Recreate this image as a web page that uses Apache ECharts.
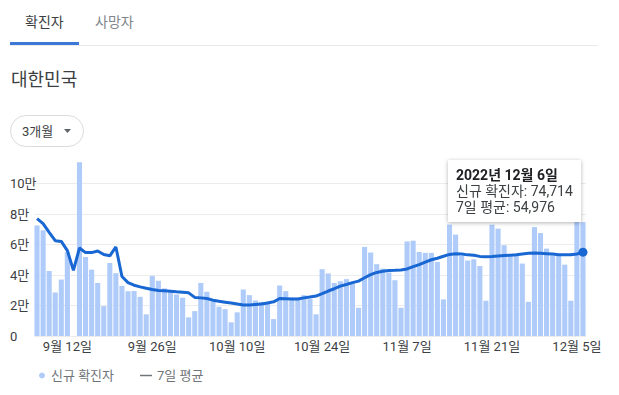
<!DOCTYPE html>
<html><head><meta charset="utf-8">
<script src="https://cdn.jsdelivr.net/npm/echarts@6/dist/echarts.min.js"></script>
<style>html,body{margin:0;padding:0;background:#fff}#c{width:619px;height:395px}</style>
</head><body><div id="c"></div>
<script>
const YEAR = 2022;
const dates = [
 "9/7","9/8","9/9","9/10","9/11","9/12","9/13","9/14","9/15","9/16","9/17","9/18","9/19","9/20","9/21","9/22","9/23","9/24","9/25","9/26","9/27","9/28","9/29","9/30",
 "10/1","10/2","10/3","10/4","10/5","10/6","10/7","10/8","10/9","10/10","10/11","10/12","10/13","10/14","10/15","10/16","10/17","10/18","10/19","10/20","10/21","10/22","10/23","10/24","10/25","10/26","10/27","10/28","10/29","10/30","10/31",
 "11/1","11/2","11/3","11/4","11/5","11/6","11/7","11/8","11/9","11/10","11/11","11/12","11/13","11/14","11/15","11/16","11/17","11/18","11/19","11/20","11/21","11/22","11/23","11/24","11/25","11/26","11/27","11/28","11/29","11/30",
 "12/1","12/2","12/3","12/4","12/5","12/6"
];
const tickLabels = ["9/12","9/26","10/10","10/24","11/7","11/21","12/5"];
const newCases = [
 72500,69300,42700,28600,37000,55000,null,114000,51800,43500,34800,19600,47900,41200,32900,29400,29500,25700,14200,39400,36200,31200,30000,27200,
 25100,12200,16300,34800,29000,22900,19200,17600,9000,15500,30500,26800,23300,22400,21400,11100,33100,29400,25300,25100,26800,24200,14200,43800,41000,34800,35900,37300,35500,18500,58400,
 54700,47100,44200,41600,36600,18500,62000,62500,55100,54500,54500,48600,24000,73000,66500,52500,49500,50300,45900,23100,73000,70400,59500,52900,52500,47500,22400,71400,67500,
 57300,52900,52900,46800,23100,77500,74714
];
const avg7 = [
 77000,73700,68000,62500,62000,56000,43000,57700,54700,54700,55700,53400,52600,58400,39000,35000,33300,32200,31300,30500,29800,29600,29400,29000,
 28700,28300,25300,25000,24600,23500,22800,22200,21600,21000,20300,20400,20700,21000,21700,22400,24600,24400,24200,24300,25000,25600,26200,27800,29500,31000,32700,33800,35000,36000,38200,
 40200,41700,42500,43000,43100,43300,44000,45500,46800,48500,50000,51000,52300,53500,54000,53800,53200,52900,52200,52000,52200,52500,52800,53000,53300,53800,54200,54500,54300,
 54000,53700,53300,53200,53300,53800,54976
];
const yTickValues = [0,20000,40000,60000,80000,100000];

const FONT = 'Roboto, "Noto Sans CJK KR", "Noto Sans", sans-serif';
const chart = echarts.init(document.getElementById('c'), null, {renderer: 'svg'});
function korDate(s){ const p = s.split('/'); return p[0] + '월 ' + p[1] + '일'; }
function fmt(n){ return n.toLocaleString('en-US'); }

chart.setOption({
  animation: false,
  textStyle: {fontFamily: FONT},
  grid: {left: 34, right: 33, top: 153, bottom: 59},
  xAxis: {
    type: 'category', data: dates, boundaryGap: true,
    axisLine: {show: false}, axisTick: {show: false},
    axisLabel: {interval: (i, v) => tickLabels.includes(v), formatter: korDate,
      color: '#3c4043', fontSize: 13, margin: 4, fontFamily: FONT}
  },
  yAxis: {
    type: 'value', min: 0, max: 120000, interval: 20000,
    axisLine: {show: false}, axisTick: {show: false},
    axisLabel: {formatter: v => yTickValues.includes(v) ? (v === 0 ? '0' : (v / 10000) + '만') : '',
      showMaxLabel: false, align: 'left', margin: 24, color: '#3c4043', fontSize: 13, fontFamily: FONT},
    splitLine: {showMaxLine: false, lineStyle: {color: '#ececec', width: 1}}
  },
  legend: [
    {data: [{name: '신규 확진자', icon: 'circle', itemStyle: {color: '#aecbfa'}}],
     left: 34, top: 364, itemWidth: 8, itemHeight: 6,
     textStyle: {color: '#70757a', fontSize: 13, fontFamily: FONT}, selectedMode: false},
    {data: [{name: '7일 평균', icon: 'rect', itemStyle: {color: '#70757a'}}],
     left: 135, top: 364, itemWidth: 12, itemHeight: 1.5,
     textStyle: {color: '#70757a', fontSize: 13, fontFamily: FONT}, selectedMode: false}
  ],
  tooltip: {
    trigger: 'item', triggerOn: 'none', alwaysShowContent: true, transitionDuration: 0,
    position: [448, 160], backgroundColor: '#fff', borderWidth: 0, padding: [7, 8],
    extraCssText: 'box-shadow:0 1px 4px rgba(0,0,0,0.3);border-radius:0;line-height:16px;',
    textStyle: {fontSize: 14, color: '#3c4043', fontFamily: FONT},
    formatter: p => {
      const i = p.dataIndex;
      return '<div style="font-weight:bold;color:#202124">' + YEAR + '년 ' + korDate(dates[i]) + '</div>' +
        '<div>신규 확진자: ' + fmt(newCases[i]) + '</div>' +
        '<div>7일 평균: ' + fmt(avg7[i]) + '</div>';
    }
  },
  graphic: [
    {type: 'rect', shape: {x: 10, y: 45, width: 588, height: 1}, style: {fill: '#e8eaed'}},
    {type: 'rect', shape: {x: 10, y: 42, width: 69, height: 3}, style: {fill: '#3c78d8'}},
    {type: 'text', x: 25, y: 22, style: {text: '확진자', font: '14px ' + FONT, fill: '#3c4043', verticalAlign: 'middle'}},
    {type: 'text', x: 95, y: 22, style: {text: '사망자', font: '14px ' + FONT, fill: '#80868b', verticalAlign: 'middle'}},
    {type: 'text', x: 11, y: 79, style: {text: '대한민국', font: '18px ' + FONT, fill: '#3c4043', verticalAlign: 'middle'}},
    {type: 'rect', shape: {x: 10.5, y: 115.5, width: 73, height: 31, r: 15.5}, style: {fill: '#fff', stroke: '#dadce0', lineWidth: 1}},
    {type: 'text', x: 22, y: 131, style: {text: '3개월', font: '13px ' + FONT, fill: '#3c4043', verticalAlign: 'middle'}},
    {type: 'polygon', shape: {points: [[64, 129], [71, 129], [67.5, 133]]}, style: {fill: '#5f6368'}}
  ],
  series: [
    {name: '신규 확진자', type: 'bar', data: newCases, barCategoryGap: '16%',
     itemStyle: {color: '#aecbfa'}, emphasis: {disabled: true}},
    {name: '7일 평균', type: 'line', data: avg7, z: 3, smooth: false,
     symbol: 'circle', showSymbol: true, showAllSymbol: true,
     symbolSize: (v, p) => p.dataIndex === avg7.length - 1 ? 9 : 0,
     itemStyle: {color: '#1967d2'}, lineStyle: {color: '#1967d2', width: 3},
     emphasis: {disabled: true}}
  ]
});
chart.dispatchAction({type: 'showTip', seriesIndex: 1, dataIndex: avg7.length - 1});
</script></body></html>
